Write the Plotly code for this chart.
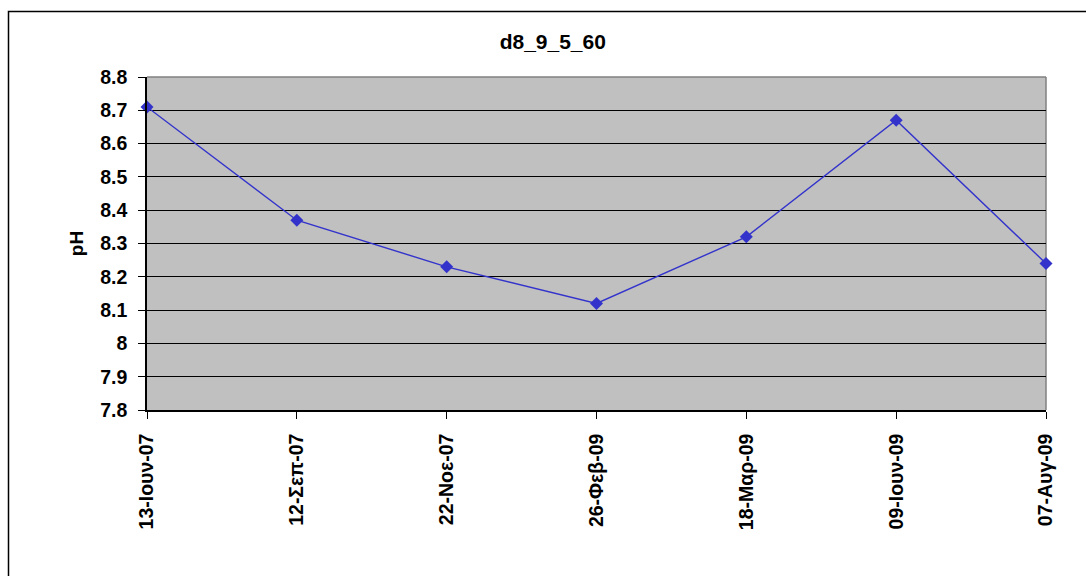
import plotly.graph_objects as go

# Sampling dates (Greek month abbreviations) and measured pH
dates = ["13-Ιουν-07", "12-Σεπ-07", "22-Νοε-07", "26-Φεβ-09",
         "18-Μαρ-09", "09-Ιουν-09", "07-Αυγ-09"]
ph_values = [8.71, 8.37, 8.23, 8.12, 8.32, 8.67, 8.24]

y_ticks = [7.8, 7.9, 8.0, 8.1, 8.2, 8.3, 8.4, 8.5, 8.6, 8.7, 8.8]
y_tick_text = ["7.8", "7.9", "8", "8.1", "8.2", "8.3", "8.4", "8.5", "8.6", "8.7", "8.8"]

FONT = "Liberation Sans, Arial, sans-serif"

fig = go.Figure()
fig.add_trace(go.Scatter(
    x=dates,
    y=ph_values,
    mode="lines+markers",
    line=dict(color="#3333CC", width=1.4),
    marker=dict(symbol="diamond", size=10, color="#3333CC"),
    cliponaxis=False,
    showlegend=False,
))

fig.update_layout(
    width=1086,
    height=576,
    margin=dict(l=147, r=40, t=77, b=166),
    paper_bgcolor="white",
    plot_bgcolor="#C0C0C0",
    font=dict(family=FONT, color="black"),
    title=dict(
        text="<b>d8_9_5_60</b>",
        x=0.509, xref="container", xanchor="center",
        y=1 - 42 / 576, yref="container", yanchor="middle",
        font=dict(size=21, family=FONT, color="black"),
    ),
    xaxis=dict(
        type="category",
        range=[0, len(dates) - 1],
        tickangle=-90,
        ticks="outside", ticklen=7, tickcolor="black", tickwidth=1,
        ticklabelstandoff=7,
        showline=True, linecolor="black", linewidth=1.5,
        showgrid=False, zeroline=False,
        tickfont=dict(size=19.5, family=FONT, color="black", weight="bold"),
        automargin=False,
    ),
    yaxis=dict(
        range=[7.8, 8.8],
        tickvals=y_ticks,
        ticktext=y_tick_text,
        ticks="outside", ticklen=7, tickcolor="black", tickwidth=1,
        ticklabelstandoff=7,
        showline=True, linecolor="black", linewidth=1.5,
        showgrid=True, gridcolor="black", gridwidth=1,
        zeroline=False,
        tickfont=dict(size=19.5, family=FONT, color="black", weight="bold"),
        title=dict(text="<b>pH</b>", font=dict(size=19, family=FONT, color="black"),
                   standoff=12),
        automargin=False,
    ),
    shapes=[
        # gray plot-area frame on the top and right sides
        dict(type="line", xref="paper", yref="paper", x0=0, x1=1, y0=1, y1=1,
             line=dict(color="#808080", width=1.5), layer="between"),
        dict(type="line", xref="paper", yref="paper", x0=1, x1=1, y0=0, y1=1,
             line=dict(color="#808080", width=1.5), layer="between"),
        # chart-area outline
        dict(type="rect", xref="paper", yref="paper",
             x0=(8.5 - 147) / 899, x1=1.2,
             y0=-0.6, y1=(410 - 11.5) / 333,
             line=dict(color="black", width=1.5), layer="above"),
    ],
)

fig.write_html("out.html")
